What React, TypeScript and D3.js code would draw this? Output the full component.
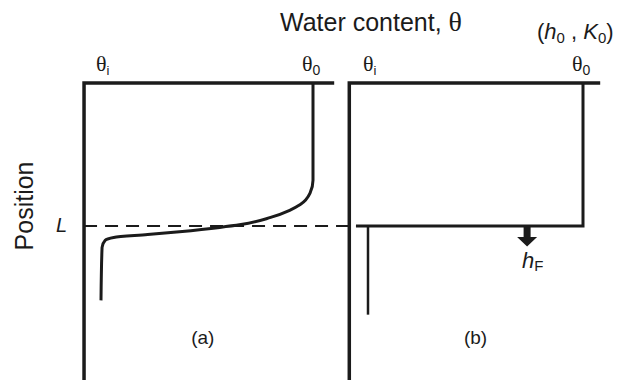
import * as d3 from 'd3'

// profile (a): relative water content vs relative position (L = 1)
const thetaA = [1, 1, 0.986, 0.94, 0.89, 0.8, 0.66, 0.56, 0.37, 0.22, 0.06, 0.02, 0.005, 0]
const zA = [0, 0.68, 0.77, 0.85, 0.89, 0.94, 0.99, 1.01, 1.04, 1.06, 1.08, 1.1, 1.15, 1.52]

// profile (b): sharp front (Green-Ampt)
const thetaFront = [1, 1, -0.056]
const zFront = [0, 1, 1]
const thetaInit = [0, 0]
const zInit = [1, 1.62]

const panels = ['(a)', '(b)']

const W = 632
const H = 380
const ink = '#1b1b1b'
const sans = '"Liberation Sans", Arial, sans-serif'
const serif = '"Liberation Serif", "Times New Roman", serif'

export default function App() {
  const y = d3.scaleLinear().domain([0, 1]).range([83, 226])
  const xA = d3.scaleLinear().domain([0, 1]).range([101, 313])
  const xB = d3.scaleLinear().domain([0, 1]).range([368, 583])

  const mk = (x: d3.ScaleLinear<number, number>, t: number[], z: number[], curve = d3.curveLinear) =>
    d3
      .line<number>()
      .x((d) => x(t[d]))
      .y((d) => y(z[d]))
      .curve(curve)(d3.range(t.length)) as string

  const pathA = mk(xA, thetaA, zA, d3.curveMonotoneY)
  const pathFront = mk(xB, thetaFront, zFront)
  const pathInit = mk(xB, thetaInit, zInit)

  const axA = xA(-0.08)
  const axB = xB(-0.087)
  const arrowX = xB(0.74)

  return (
    <svg
      width={W}
      height={H}
      style={{ position: 'absolute', left: 0, top: 0, background: '#fff' }}
    >
      {/* title */}
      <text x={280} y={31} fontFamily={sans} fontSize={25} fill={ink}>
        Water content,{' '}
        <tspan fontFamily={serif} fontSize={28}>θ</tspan>
      </text>
      <text x={537} y={39} fontFamily={sans} fontSize={22} fill={ink}>
        (<tspan fontStyle="italic">h</tspan>
        <tspan fontSize={15} dy={4}>0</tspan>
        <tspan dy={-4}> , </tspan>
        <tspan fontStyle="italic">K</tspan>
        <tspan fontSize={15} dy={4}>0</tspan>
        <tspan dy={-4}>)</tspan>
      </text>

      {/* position label */}
      <text
        transform={`translate(33, ${y(0.86)}) rotate(-90)`}
        textAnchor="middle"
        fontFamily={sans}
        fontSize={25}
        fill={ink}
      >
        Position
      </text>
      <text x={56} y={y(1) + 6} fontFamily={sans} fontStyle="italic" fontSize={20} fill={ink}>
        L
      </text>

      {/* theta labels over each panel */}
      {[xA, xB].map((x, i) => (
        <g key={i} fill={ink}>
          <text x={x(0) - 5} y={71} fontFamily={serif} fontSize={22}>
            θ<tspan fontFamily={sans} fontSize={13} dy={4}>i</tspan>
          </text>
          <text x={x(1) - 11} y={71} fontFamily={serif} fontSize={22}>
            θ<tspan fontFamily={sans} fontSize={14} dy={4}>0</tspan>
          </text>
        </g>
      ))}

      {/* reference line at L */}
      <line
        x1={axA}
        x2={xB(-0.056)}
        y1={y(1)}
        y2={y(1)}
        stroke={ink}
        strokeWidth={2}
        strokeDasharray="13 8"
      />

      {/* frames */}
      <g stroke={ink} strokeWidth={3.5} fill="none">
        <path d={`M${axA},${H}V${y(0)}H${xA(1.1)}`} />
        <path d={`M${axB},${H}V${y(0)}H${xB(1.08)}`} />
      </g>

      {/* profiles */}
      <g stroke={ink} fill="none" strokeLinejoin="round">
        <path d={pathA} strokeWidth={3} />
        <path d={pathFront} strokeWidth={3} strokeLinejoin="miter" />
        <path d={pathInit} strokeWidth={2.5} />
      </g>

      {/* wetting front arrow */}
      <path
        d={`M${arrowX - 3.5},${y(1)}h7v11h6.5l-10,9.5l-10,-9.5h6.5z`}
        fill={ink}
      />
      <text x={arrowX - 5} y={268} fontFamily={sans} fontSize={22} fill={ink}>
        <tspan fontStyle="italic">h</tspan>
        <tspan fontSize={15} dy={3}>F</tspan>
      </text>

      {/* panel labels */}
      {panels.map((p, i) => (
        <text
          key={p}
          x={i === 0 ? xA(0.48) : xB(0.5)}
          y={344}
          textAnchor="middle"
          fontFamily={sans}
          fontSize={19}
          fill={ink}
        >
          {p}
        </text>
      ))}
    </svg>
  )
}
